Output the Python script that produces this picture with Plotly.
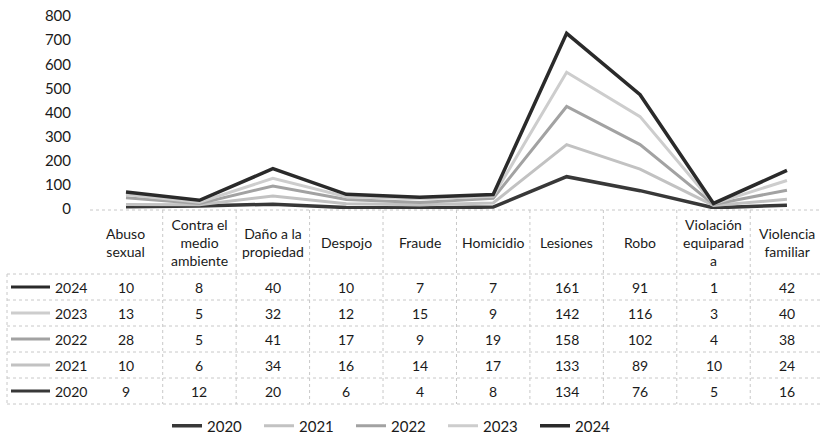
import plotly.graph_objects as go

W, H = 820, 437

categories = ["Abuso sexual", "Contra el medio ambiente", "Daño a la propiedad", "Despojo",
              "Fraude", "Homicidio", "Lesiones", "Robo", "Violación equiparada",
              "Violencia familiar"]
header_labels = ["Abuso<br>sexual", "Contra el<br>medio<br>ambiente", "Daño a la<br>propiedad",
                 "Despojo", "Fraude", "Homicidio", "Lesiones", "Robo",
                 "Violación<br>equiparad<br>a", "Violencia<br>familiar"]
years = ["2020", "2021", "2022", "2023", "2024"]
v2020 = [9, 12, 20, 6, 4, 8, 134, 76, 5, 16]
v2021 = [10, 6, 34, 16, 14, 17, 133, 89, 10, 24]
v2022 = [28, 5, 41, 17, 9, 19, 158, 102, 4, 38]
v2023 = [13, 5, 32, 12, 15, 9, 142, 116, 3, 40]
v2024 = [10, 8, 40, 10, 7, 7, 161, 91, 1, 42]
y_ticks = [0, 100, 200, 300, 400, 500, 600, 700, 800]

series = [v2020, v2021, v2022, v2023, v2024]
colors = ["#383838", "#c2c2c2", "#a2a2a2", "#cdcdcd", "#2a2a2a"]
widths = [3.5, 3, 3, 3, 3.5]

FONT = "Lato"
TXT = "#1a1a1a"
GRID = "#c8c8c8"


def py(px):
    return 1 - px / H


def pxx(px):
    return px / W


fig = go.Figure()
idx = list(range(len(categories)))
for name, vals, c, w in zip(years, series, colors, widths):
    fig.add_trace(go.Scatter(x=idx, y=vals, name=name, mode="lines", stackgroup="one",
                             fill="none", line=dict(color=c, width=w), hoverinfo="skip"))

x0_px = 90
fig.update_layout(
    width=W, height=H, margin=dict(l=0, r=0, t=0, b=0, autoexpand=False),
    paper_bgcolor="white", plot_bgcolor="white",
    font=dict(family=FONT, size=14, color=TXT),
    xaxis=dict(domain=[pxx(x0_px), 1], range=[-0.49, 9.45], showticklabels=False,
               showgrid=False, zeroline=False, showline=False, fixedrange=True),
    yaxis=dict(domain=[py(209), py(16)], range=[0, 800], tickvals=y_ticks,
               showgrid=False, zeroline=False, showline=False, ticks="",
               tickfont=dict(size=15, color=TXT), ticklabelstandoff=18, automargin=False),
    legend=dict(orientation="h", x=397 / W, xanchor="center", y=py(426), yanchor="middle",
                font=dict(size=15, color=TXT), entrywidth=47, entrywidthmode="pixels",
                traceorder="normal", bgcolor="rgba(0,0,0,0)"),
    showlegend=True,
)

shapes = []
annotations = []
dash = "dot"
# table geometry
head_top, head_bot = 210, 274
row_h = 26
rows_years = ["2024", "2023", "2022", "2021", "2020"]
rows_vals = [v2024, v2023, v2022, v2021, v2020]
row_colors = [colors[4], colors[3], colors[2], colors[1], colors[0]]
table_bot = head_bot + row_h * len(rows_years)

# horizontal lines
shapes.append(dict(type="line", xref="paper", yref="paper", x0=pxx(x0_px), x1=1,
                   y0=py(head_top), y1=py(head_top), line=dict(color=GRID, width=1, dash=dash)))
for k in range(len(rows_years) + 1):
    yy = head_bot + k * row_h
    shapes.append(dict(type="line", xref="paper", yref="paper", x0=pxx(7), x1=1,
                       y0=py(yy), y1=py(yy), line=dict(color=GRID, width=1, dash=dash)))
# vertical lines
shapes.append(dict(type="line", xref="paper", yref="paper", x0=pxx(7), x1=pxx(7),
                   y0=py(head_bot), y1=py(table_bot), line=dict(color=GRID, width=1, dash=dash)))
for i in range(len(categories)):
    shapes.append(dict(type="line", xref="x", yref="paper", x0=i - 0.5, x1=i - 0.5,
                       y0=py(head_top), y1=py(table_bot), line=dict(color=GRID, width=1, dash=dash)))

# header
for i, lab in enumerate(header_labels):
    annotations.append(dict(xref="x", yref="paper", x=i, y=py((head_top + head_bot) / 2),
                            text=lab, showarrow=False, xanchor="center", yanchor="middle",
                            font=dict(size=14, color=TXT), borderpad=0))
# rows
for r, (yr, vals, c) in enumerate(zip(rows_years, rows_vals, row_colors)):
    yc = head_bot + r * row_h + row_h / 2
    shapes.append(dict(type="line", xref="paper", yref="paper", x0=pxx(11), x1=pxx(50),
                       y0=py(yc), y1=py(yc), line=dict(color=c, width=3)))
    annotations.append(dict(xref="paper", yref="paper", x=pxx(88), y=py(yc), text=yr,
                            showarrow=False, xanchor="right", yanchor="middle",
                            font=dict(size=14, color=TXT), borderpad=0))
    for i, v in enumerate(vals):
        annotations.append(dict(xref="x", yref="paper", x=i, y=py(yc), text=str(v),
                                showarrow=False, xanchor="center", yanchor="middle",
                                font=dict(size=14, color=TXT)))

fig.update_layout(shapes=shapes, annotations=annotations)
fig.write_html("out.html", config={"displayModeBar": False},
               post_script="document.body.style.margin='0';document.body.style.padding='0';")
